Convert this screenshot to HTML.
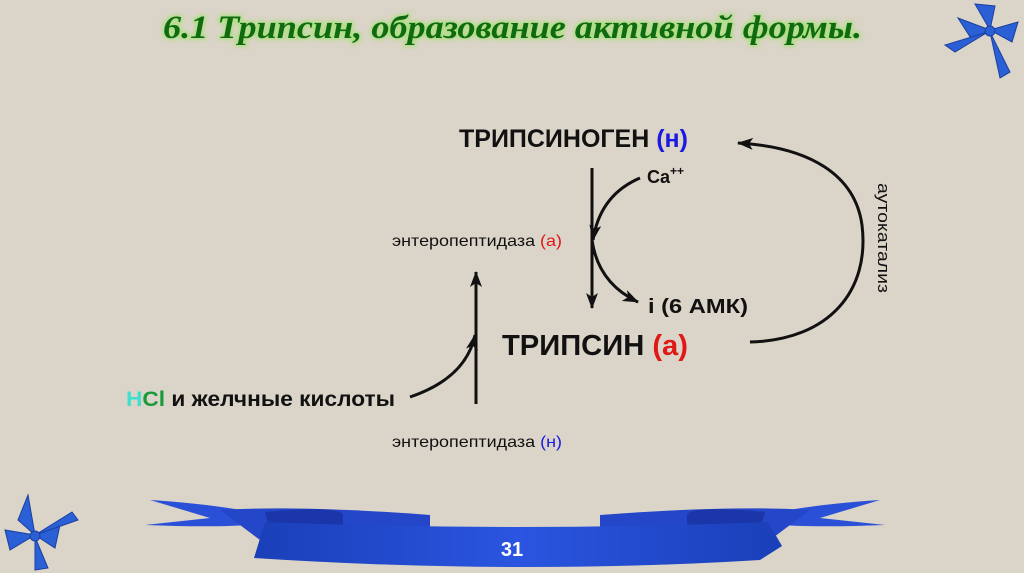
<!DOCTYPE html>
<html><head><meta charset="utf-8"><style>
html,body{margin:0;padding:0}
body{width:1024px;height:573px;background:#dbd4c8;position:relative;overflow:hidden;font-family:"Liberation Sans",sans-serif}
</style></head><body>
<svg width="1024" height="573" style="position:absolute;left:0;top:0" font-family="Liberation Sans, sans-serif">
<defs>
<marker id="a" markerWidth="16" markerHeight="12" refX="15" refY="6" orient="auto" markerUnits="userSpaceOnUse"><path d="M0,0 L16,6 L0,12 L4,6z" fill="#111"/></marker>
<linearGradient id="rb" x1="0" x2="1"><stop offset="0" stop-color="#1a3fb8"/><stop offset=".5" stop-color="#2a55e0"/><stop offset="1" stop-color="#1a3fb8"/></linearGradient>
<filter id="g"><feGaussianBlur stdDeviation="2"/></filter>
</defs>
<g font-family="Liberation Serif, serif" font-style="italic" font-weight="bold" font-size="33">
<text x="163" y="38" textLength="699" lengthAdjust="spacingAndGlyphs" fill="#a8e07a" stroke="#a8e07a" stroke-width="3" filter="url(#g)">6.1 Трипсин, образование активной формы.</text>
<text x="163" y="38" textLength="699" lengthAdjust="spacingAndGlyphs" fill="#0f6a12">6.1 Трипсин, образование активной формы.</text>
</g>
<g font-weight="bold" fill="#111">
<text x="459" y="147" font-size="25" textLength="229" lengthAdjust="spacingAndGlyphs">ТРИПСИНОГЕН <tspan fill="#1a1ae0">(н)</tspan></text>
<text x="647" y="183" font-size="18">Ca<tspan font-size="12" dy="-8">++</tspan></text>
<text x="648" y="313" font-size="20" textLength="100" lengthAdjust="spacingAndGlyphs">i (6 АМК)</text>
<text x="502" y="355" font-size="29" textLength="186" lengthAdjust="spacingAndGlyphs">ТРИПСИН <tspan fill="#e01818">(а)</tspan></text>
<text x="126" y="406" font-size="21" textLength="269" lengthAdjust="spacingAndGlyphs"><tspan fill="#40e0d0">H</tspan><tspan fill="#1a9a3a">Cl</tspan> и желчные кислоты</text>
</g>
<text x="392" y="246" font-size="16" fill="#111" textLength="170" lengthAdjust="spacingAndGlyphs">энтеропептидаза <tspan fill="#e01818">(а)</tspan></text>
<text x="392" y="447" font-size="16" fill="#111" textLength="170" lengthAdjust="spacingAndGlyphs">энтеропептидаза <tspan fill="#1a1ae0">(н)</tspan></text>
<text transform="translate(878,183) rotate(90)" font-size="17" fill="#111" textLength="110" lengthAdjust="spacingAndGlyphs">аутокатализ</text>
<g stroke="#111" stroke-width="3" fill="none">
<line x1="592" y1="168" x2="592" y2="308" marker-end="url(#a)"/>
<path d="M640,178 Q600,195 593,240" marker-end="url(#a)"/>
<path d="M592,240 Q598,283 638,302" marker-end="url(#a)"/>
<line x1="476" y1="404" x2="476" y2="272" marker-end="url(#a)"/>
<path d="M410,397 Q466,378 475,335" marker-end="url(#a)"/>
<path d="M750,342 C830,340 870,290 862,225 C855,175 810,147 738,143" marker-end="url(#a)"/>
</g>
<path d="M150,500 Q230,505 290,520 L262,524 Q220,528 145,525 L210,518z" fill="#2a50d8"/>
<path d="M880,500 Q800,505 740,520 L768,524 Q810,528 885,525 L820,518z" fill="#2a50d8"/>
<path d="M220,510 Q300,505 430,515 L430,545 L260,540z" fill="#2446c8"/>
<path d="M810,510 Q730,505 600,515 L600,545 L770,540z" fill="#2446c8"/>
<path d="M265,512 Q340,505 343,515 L343,530 L270,530z" fill="#1a36a8"/>
<path d="M765,512 Q690,505 687,515 L687,530 L760,530z" fill="#1a36a8"/>
<path d="M265,522 Q515,532 768,522 L782,546 L760,560 Q515,575 254,558z" fill="url(#rb)"/>
<text x="512" y="556" text-anchor="middle" font-size="20" font-weight="bold" fill="#fff">31</text>
<g fill="#2b5fd6" stroke="#1a3fa0" stroke-width="1">
<path d="M990,30 L975,4 L995,6z"/><path d="M990,30 L958,18 L972,40z"/><path d="M990,30 L1018,22 L1012,42z"/>
<path d="M988,32 L945,45 L955,52z"/><path d="M990,32 L1000,78 L1010,72z"/><circle cx="990" cy="31" r="5"/>
<path d="M35,535 L28,495 L18,520z"/><path d="M35,535 L5,530 L10,550z"/><path d="M35,535 L60,525 L55,548z"/>
<path d="M35,535 L78,520 L72,512z"/><path d="M35,537 L35,570 L48,568z"/><circle cx="35" cy="536" r="5"/>
</g>
</svg>
</body></html>
